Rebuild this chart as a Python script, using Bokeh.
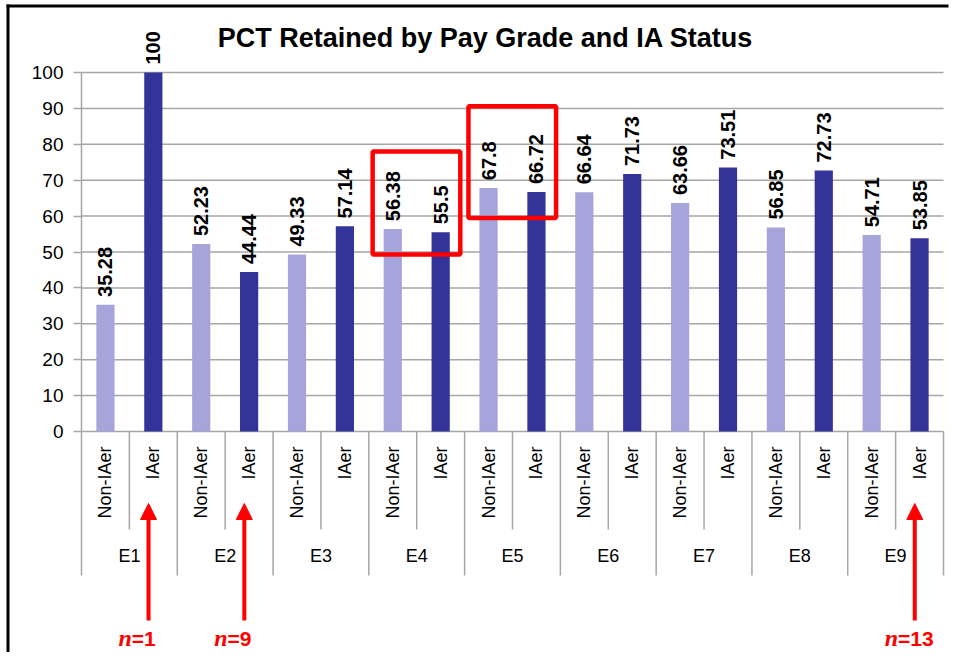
from math import pi
from bokeh.plotting import figure
from bokeh.models import (Range1d, FixedTicker, ColumnDataSource, LinearAxis,
                          Arrow, NormalHead, Label)
from bokeh.core.properties import value
from bokeh.embed import file_html
from bokeh.resources import INLINE

# ---------------- data ----------------
groups = ["E1", "E2", "E3", "E4", "E5", "E6", "E7", "E8", "E9"]
statuses = ["Non-IAer", "IAer"]
non_iaer = [35.28, 52.23, 49.33, 56.38, 67.8, 66.64, 63.66, 56.85, 54.71]
iaer = [100, 44.44, 57.14, 55.5, 66.72, 71.73, 73.51, 72.73, 53.85]
y_ticks = [0, 10, 20, 30, 40, 50, 60, 70, 80, 90, 100]
title_text = "PCT Retained by Pay Grade and IA Status"

# annotations
n_groups = ["E1", "E2", "E9"]
n_values = [1, 9, 13]
box_groups = ["E4", "E5"]
box_bottoms = [49.3, 59.5]
box_tops = [78.0, 90.6]

colors = {"Non-IAer": "#A5A5DC", "IAer": "#333399"}
FONT = value("Liberation Sans")
GRID = "#A6A6A6"

# ---------------- layout geometry (pixels) ----------------
W, H = 955, 652
PLOT_L, PLOT_R = 81, 943       # chart area left/right in canvas px
ZERO_Y, PX_PER_UNIT = 431, 3.59

factors = [(g, s) for g in groups for s in statuses]
n = len(factors)
slot = (PLOT_R - PLOT_L) / n   # px per category slot


def px_x(px):
    return (px - PLOT_L) / slot


def px_y(py):
    return (ZERO_Y - py) / PX_PER_UNIT


vals = []
for a, b in zip(non_iaer, iaer):
    vals += [a, b]
xs = [i + 0.5 for i in range(n)]
k = len(statuses)
group_x = [gi * k + k / 2 for gi in range(len(groups))]

src = ColumnDataSource(dict(
    x=xs,
    top=vals,
    color=[colors[s] for _, s in factors],
    label=[f"{v:g}" for v in vals],
    ly=[v + 2.2 for v in vals],
))

p = figure(
    x_range=Range1d(px_x(0), px_x(W)),
    y_range=Range1d(px_y(H), px_y(0)),
    width=W, height=H,
    output_backend="svg", toolbar_location=None,
    x_axis_location=None, y_axis_location=None,
    min_border_left=0, min_border_right=0, min_border_top=0, min_border_bottom=0,
)
p.outline_line_color = None
p.background_fill_color = "white"
p.border_fill_color = "white"
p.xgrid.visible = False
p.ygrid.visible = False

# page frame lines (left and top)
p.segment(x0=[px_x(7.5), px_x(6)], y0=[px_y(H), px_y(5.5)],
          x1=[px_x(7.5), px_x(948)], y1=[px_y(4), px_y(5.5)],
          line_color="black", line_width=3, line_cap="butt")

# horizontal grid lines
p.segment(x0=[0] * len(y_ticks), y0=y_ticks, x1=[n] * len(y_ticks), y1=y_ticks,
          line_color=GRID, line_width=1.5)

# y axis (fixed at the chart's left edge)
ax = LinearAxis(fixed_location=0, ticker=FixedTicker(ticks=y_ticks))
ax.axis_line_color = None
ax.major_tick_line_color = GRID
ax.major_tick_line_width = 1.5
ax.major_tick_out = 8
ax.major_tick_in = 0
ax.minor_tick_line_color = None
ax.major_label_text_font = "Liberation Sans"
ax.major_label_text_font_size = "19px"
ax.major_label_text_color = "black"
ax.major_label_standoff = 10
p.add_layout(ax, "left")

# y axis line
p.segment(x0=[0], y0=[y_ticks[0]], x1=[0], y1=[y_ticks[-1]], line_color=GRID, line_width=1.5)

# bars
p.vbar(x="x", top="top", bottom=0, width=0.38, fill_color="color", line_color=None, source=src)

# value labels
p.text(x="x", y="ly", text="label", angle=pi / 2, text_align="left", text_baseline="middle",
       text_font=FONT, text_font_style="bold", text_font_size="20px", text_color="black",
       source=src)

# category separators
xs0, ys0, ys1 = [], [], []
for i in range(n + 1):
    xs0.append(i)
    ys0.append(0)
    ys1.append(px_y(575) if i % k == 0 else px_y(529))
p.segment(x0=xs0, y0=ys0, x1=xs0, y1=ys1, line_color=GRID, line_width=1.5)

# sub-category labels
p.text(x=xs, y=[px_y(446)] * n, text=[s for _, s in factors], angle=pi / 2,
       text_align="right", text_baseline="middle", text_font=FONT,
       text_font_size="18px", text_color="black")

# group labels
p.text(x=group_x, y=[px_y(555)] * len(groups), text=groups, text_align="center",
       text_baseline="middle", text_font=FONT, text_font_size="18px", text_color="black")

# title
p.add_layout(Label(x=px_x(485), y=px_y(37), text=title_text, text_align="center",
                   text_baseline="middle", text_font="Liberation Sans",
                   text_font_style="bold", text_font_size="27px", text_color="black"))

# highlight boxes
for g, b, t in zip(box_groups, box_bottoms, box_tops):
    i0 = factors.index((g, statuses[0]))
    p.quad(left=[i0 + 0.08], right=[i0 + k - 0.09], bottom=[b], top=[t],
           fill_color=None, line_color="#FF0000", line_width=4.5)

# n arrows + labels
for g, nv in zip(n_groups, n_values):
    xc = factors.index((g, "IAer")) + 0.5 - 0.1
    p.add_layout(Arrow(x_start=xc, y_start=px_y(620), x_end=xc, y_end=px_y(503),
                       line_color="#FF0000", line_width=4,
                       end=NormalHead(size=16, fill_color="#FF0000", line_color="#FF0000")))
    xa = xc - 0.35
    p.text(x=[xa], y=[px_y(637.5)], text=["n"], text_align="right", text_baseline="middle",
           text_font=value("Liberation Serif"), text_font_style="bold italic",
           text_font_size="24px", text_color="#FF0000")
    p.text(x=[xa], y=[px_y(637.5)], text=[f"={nv}"], text_align="left", text_baseline="middle",
           text_font=FONT, text_font_style="bold", text_font_size="21px", text_color="#FF0000")

open("out.html", "w").write(file_html(p, INLINE))
